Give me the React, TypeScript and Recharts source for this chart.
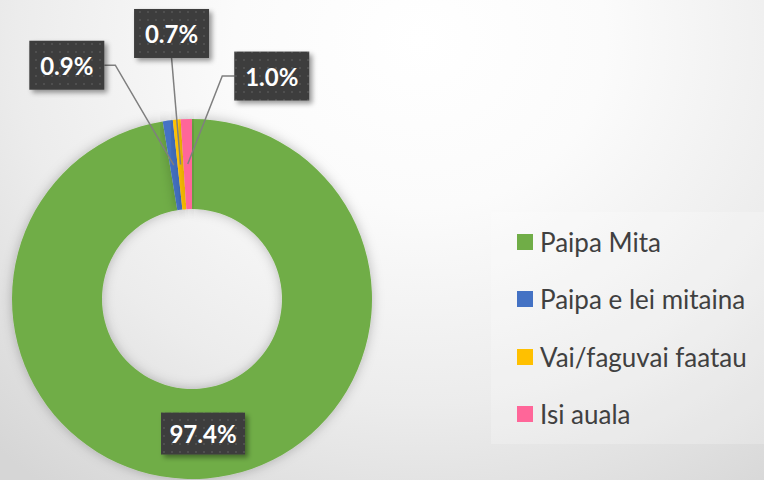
import { Cell, Legend, Pie, PieChart } from "recharts";

const categories = ["Paipa Mita", "Paipa e lei mitaina", "Vai/faguvai faatau", "Isi auala"];
const shares = [97.4, 0.9, 0.7, 1.0];
const colors = ["#70AD47", "#4472C4", "#FFC000", "#FF6699"];

// where each data label box sits relative to its slice anchor, and which edge the leader line joins
const labelPlacement = [
  { dx: 0, dy: 0, side: "none" },
  { dx: -107, dy: -100, side: "right" },
  { dx: -9, dy: -131, side: "bottom" },
  { dx: 84, dy: -88, side: "left" },
];

const data = categories.map((name, i) => ({ name, value: shares[i] }));

const RAD = Math.PI / 180;

function DataLabel(props: any) {
  const { cx, cy, midAngle, innerRadius, outerRadius, index, value } = props;
  const r = (innerRadius + outerRadius) / 2;
  const ax = cx + r * Math.cos(-midAngle * RAD);
  const ay = cy + r * Math.sin(-midAngle * RAD);
  const place = labelPlacement[index];
  const text = `${Number(value).toFixed(1)}%`;
  const w = text.length > 4 ? 84 : 75;
  const h = index === 0 ? 42 : 49;
  const bx = ax + place.dx;
  const by = ay + place.dy;

  let leader = "";
  if (place.side === "right") {
    const ex = bx + w / 2;
    leader = `M${ax},${ay} L${ex + 11},${by} L${ex},${by}`;
  } else if (place.side === "left") {
    const ex = bx - w / 2;
    leader = `M${ax},${ay} L${ex - 12},${by} L${ex},${by}`;
  } else if (place.side === "bottom") {
    leader = `M${ax},${ay} L${bx},${by + h / 2}`;
  }

  return (
    <g>
      {leader && <path d={leader} stroke="#7f7f7f" strokeWidth={1.5} fill="none" />}
      <rect
        x={bx - w / 2}
        y={by - h / 2}
        width={w}
        height={h}
        fill="url(#dots)"
        filter="url(#boxShadow)"
      />
      <text
        x={bx}
        y={by}
        textAnchor="middle"
        dominantBaseline="central"
        fill="#ffffff"
        fontFamily="Lato, 'Open Sans', sans-serif"
        fontWeight={700}
        fontSize={24}
      >
        {text}
      </text>
    </g>
  );
}

function LegendBox() {
  return (
    <div
      style={{
        width: 273,
        height: 232,
        background: "rgba(255,255,255,0.22)",
        boxSizing: "border-box",
        paddingTop: 1,
        paddingLeft: 26,
      }}
    >
      {categories.map((name, i) => (
        <div
          key={name}
          style={{ display: "flex", alignItems: "center", height: 57.5 }}
        >
          <span
            style={{
              display: "inline-block",
              width: 16,
              height: 16,
              background: colors[i],
              marginRight: 7,
            }}
          />
          <span
            style={{
              fontFamily: "Lato, 'Open Sans', sans-serif",
              fontSize: 26,
              color: "#404040",
              lineHeight: 1,
            }}
          >
            {name}
          </span>
        </div>
      ))}
    </div>
  );
}

export default function App() {
  return (
    <div
      style={{
        position: "absolute",
        left: 0,
        top: 0,
        width: 764,
        height: 480,
        background:
          "radial-gradient(ellipse 620px 560px at 420px 40px, #ffffff 0%, #fbfbfb 30%, #ececec 65%, #d6d6d6 100%)",
        overflow: "hidden",
      }}
    >
      <PieChart width={764} height={480} margin={{ top: 0, right: 0, bottom: 0, left: 0 }}>
        <defs>
          <pattern id="dots" width="8" height="8" patternUnits="userSpaceOnUse">
            <rect width="8" height="8" fill="#3d3d3d" />
            <rect x="3" y="3" width="2" height="2" fill="#4f4f4f" />
          </pattern>
          <filter id="boxShadow" x="-20%" y="-20%" width="150%" height="160%">
            <feDropShadow dx="3" dy="3" stdDeviation="2.5" floodColor="#000" floodOpacity="0.4" />
          </filter>
          <filter id="donutShadow" x="-10%" y="-10%" width="120%" height="120%">
            <feDropShadow dx="0" dy="0" stdDeviation="6" floodColor="#000" floodOpacity="0.25" />
          </filter>
        </defs>
        <Pie
          data={data}
          dataKey="value"
          nameKey="name"
          cx={192}
          cy={299}
          innerRadius={90}
          outerRadius={180}
          startAngle={90}
          endAngle={-270}
          stroke="none"
          labelLine={false}
          label={DataLabel}
          isAnimationActive={false}
        >
          {data.map((d, i) => (
            <Cell key={d.name} fill={colors[i]} filter="url(#donutShadow)" />
          ))}
        </Pie>
        <Legend
          content={() => <LegendBox />}
          wrapperStyle={{ position: "absolute", left: 491, top: 212, width: 273, height: 232 }}
        />
      </PieChart>
    </div>
  );
}
